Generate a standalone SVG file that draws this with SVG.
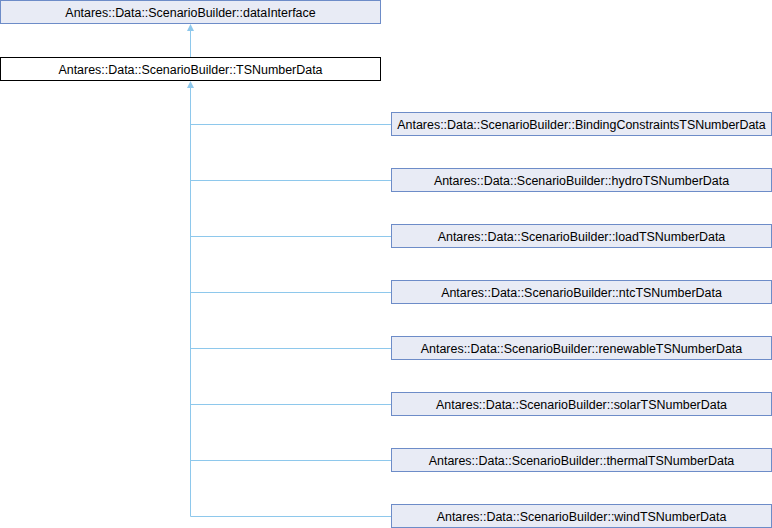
<svg xmlns="http://www.w3.org/2000/svg" width="772" height="528" viewBox="0 0 772 528">
<style>
.node rect{fill:#e8ebf5;stroke:#6d8cc8;stroke-width:1}
.cur rect{fill:#ffffff;stroke:#000000;stroke-width:1}
text{font-family:"Liberation Sans",Arial,sans-serif;font-size:12.45px;fill:#000;text-anchor:middle}
.edge{fill:none;stroke:#8ec8ec;stroke-width:1}
.head{fill:#8ec8ec;stroke:none}
</style>
<rect width="772" height="528" fill="#ffffff"/>
<g id="connectors">
<path class="edge" d="M190.5,57 V28"/>
<path class="head" d="M187,31 L190.5,24 L194,31 Z"/>
<path class="edge" d="M391,516.5 H190.5 V85"/>
<path class="head" d="M187,88 L190.5,81 L194,88 Z"/>
<path class="edge" d="M190.5,124.5 H391"/>
<path class="edge" d="M190.5,180.5 H391"/>
<path class="edge" d="M190.5,236.5 H391"/>
<path class="edge" d="M190.5,292.5 H391"/>
<path class="edge" d="M190.5,348.5 H391"/>
<path class="edge" d="M190.5,404.5 H391"/>
<path class="edge" d="M190.5,460.5 H391"/>
</g>
<g id="dataInterface" class="node"><rect x="0.5" y="0.5" width="380" height="23"/><text x="190.5" y="16.5">Antares::Data::ScenarioBuilder::dataInterface</text></g>
<g id="TSNumberData" class="cur"><rect x="0.5" y="57.5" width="380" height="23"/><text x="190.5" y="73.5">Antares::Data::ScenarioBuilder::TSNumberData</text></g>
<g id="BindingConstraintsTSNumberData" class="node"><rect x="391.5" y="112.5" width="380" height="23"/><text x="581.5" y="128.5">Antares::Data::ScenarioBuilder::BindingConstraintsTSNumberData</text></g>
<g id="hydroTSNumberData" class="node"><rect x="391.5" y="168.5" width="380" height="23"/><text x="581.5" y="184.5">Antares::Data::ScenarioBuilder::hydroTSNumberData</text></g>
<g id="loadTSNumberData" class="node"><rect x="391.5" y="224.5" width="380" height="23"/><text x="581.5" y="240.5">Antares::Data::ScenarioBuilder::loadTSNumberData</text></g>
<g id="ntcTSNumberData" class="node"><rect x="391.5" y="280.5" width="380" height="23"/><text x="581.5" y="296.5">Antares::Data::ScenarioBuilder::ntcTSNumberData</text></g>
<g id="renewableTSNumberData" class="node"><rect x="391.5" y="336.5" width="380" height="23"/><text x="581.5" y="352.5">Antares::Data::ScenarioBuilder::renewableTSNumberData</text></g>
<g id="solarTSNumberData" class="node"><rect x="391.5" y="392.5" width="380" height="23"/><text x="581.5" y="408.5">Antares::Data::ScenarioBuilder::solarTSNumberData</text></g>
<g id="thermalTSNumberData" class="node"><rect x="391.5" y="448.5" width="380" height="23"/><text x="581.5" y="464.5">Antares::Data::ScenarioBuilder::thermalTSNumberData</text></g>
<g id="windTSNumberData" class="node"><rect x="391.5" y="504.5" width="380" height="23"/><text x="581.5" y="520.5">Antares::Data::ScenarioBuilder::windTSNumberData</text></g>
</svg>
